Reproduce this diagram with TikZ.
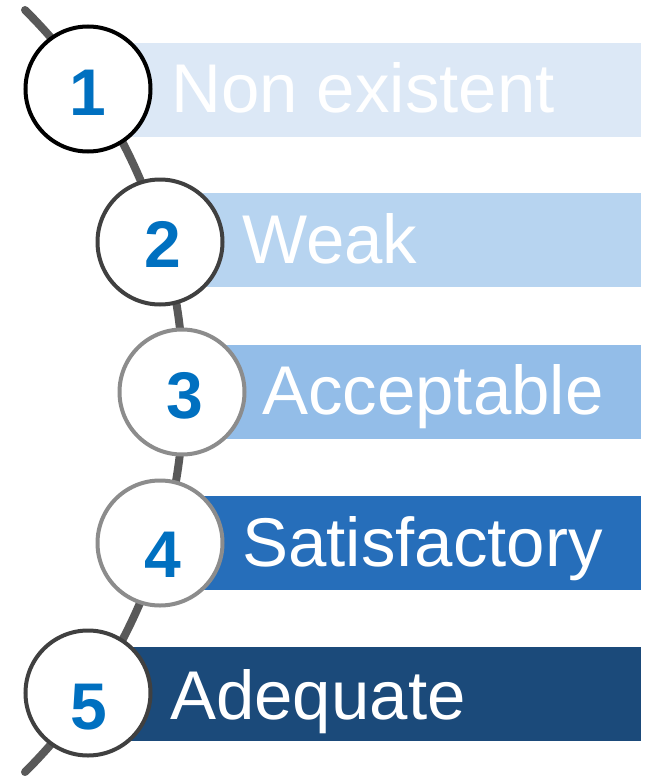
\documentclass[tikz,border=0pt]{standalone}
\usepackage{fontspec}
\setmainfont{Liberation Sans}
\definecolor{barA}{HTML}{DCE8F6}
\definecolor{barB}{HTML}{B7D4F0}
\definecolor{barC}{HTML}{93BDE8}
\definecolor{barD}{HTML}{266EBA}
\definecolor{barE}{HTML}{1B4A7A}
\definecolor{numblue}{HTML}{0070C0}
\definecolor{linegray}{HTML}{595959}
\definecolor{darkring}{HTML}{404040}
\definecolor{lightring}{HTML}{8C8C8C}
\tikzset{
  bar/.style={rectangle, draw=none, anchor=north west, minimum height=94pt, inner sep=0pt, outer sep=0pt},
  ring/.style={circle, fill=white, line width=4pt, minimum size=125pt, inner sep=0pt},
  num/.style={anchor=base, text=numblue, font=\fontsize{66}{70}\selectfont\bfseries, inner sep=0pt},
  lbl/.style={anchor=base west, text=white, font=\fontsize{69}{76}\selectfont, inner sep=0pt},
  track/.style={draw=linegray, line width=8pt, line cap=round}
}
\begin{document}
\begin{tikzpicture}[x=1pt,y=-1pt]
\useasboundingbox (0,0) rectangle (646,776);
% track
\coordinate (top) at (25,10);
\draw[track] (top) arc[start angle=-45.2, end angle=45.2, radius=537];
% bars
\node[bar, fill=barA, minimum width=553pt] (b1) at (88,43) {};
\node[bar, fill=barB, minimum width=481pt] (b2) at (160,193) {};
\node[bar, fill=barC, minimum width=459pt] (b3) at (182,345) {};
\node[bar, fill=barD, minimum width=481pt] (b4) at (160,496) {};
\node[bar, fill=barE, minimum width=553pt] (b5) at (88,647) {};
% rings
\node[ring, draw=black] (c1) at (88,89) {};
\node[ring, draw=darkring] (c2) at (160,242) {};
\node[ring, draw=lightring] (c3) at (182,392) {};
\node[ring, draw=lightring] (c4) at (160,543) {};
\node[ring, draw=darkring] (c5) at (88,693) {};
% numbers
\node[num] (n1) at (88,115) {1};
\node[num] (n2) at (163,267) {2};
\node[num] (n3) at (185,418) {3};
\node[num] (n4) at (163,577) {4};
\node[num] (n5) at (89,729) {5};
% labels
\node[lbl] (t1) at (171,112) {Non existent};
\node[lbl] (t2) at (242,263) {Weak};
\node[lbl] (t3) at (262,414) {Acceptable};
\node[lbl] (t4) at (242,566) {Satisfactory};
\node[lbl] (t5) at (170,719) {Adequate};
\end{tikzpicture}
\end{document}
